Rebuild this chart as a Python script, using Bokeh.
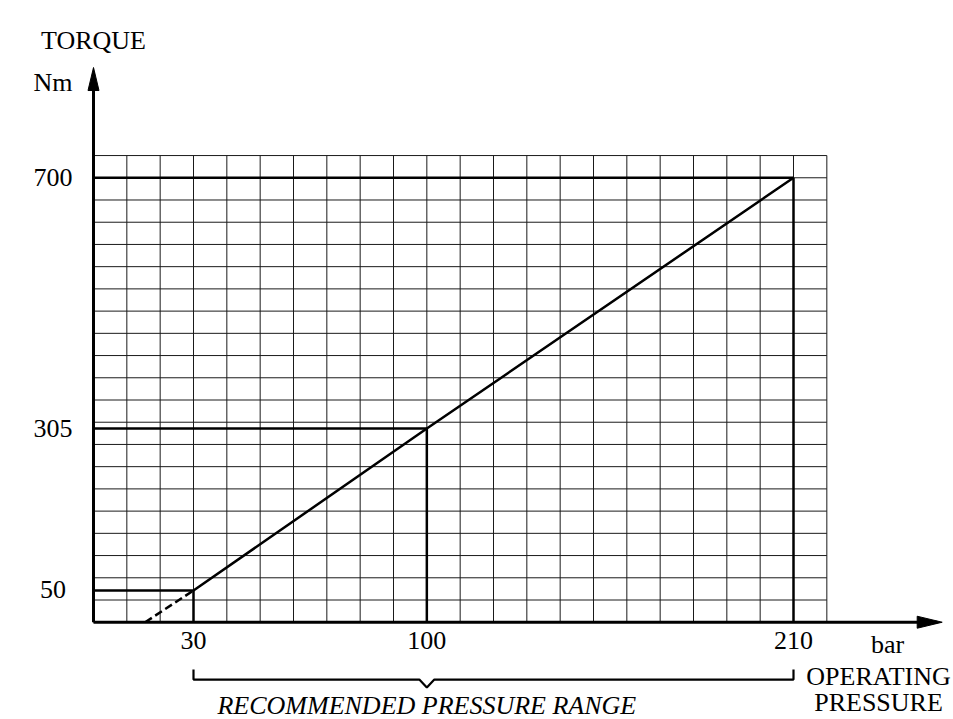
from bokeh.plotting import figure
from bokeh.models import Range1d
from bokeh.core.properties import value
from bokeh.embed import file_html
from bokeh.resources import INLINE

# ---- data -------------------------------------------------------------
pressure_points = [30, 100, 210]          # bar
torque_points = [50, 305, 700]            # Nm
dash_pressure = [15.5, 30]                # extrapolated part below 30 bar
dash_torque = [0, 50]
x_tick_values = [30, 100, 210]
x_tick_labels = ["30", "100", "210"]
y_tick_values = [700, 305, 50]
y_tick_labels = ["700", "305", "50"]
grid_x_max, grid_x_step = 220, 10
grid_y_max, grid_y_step = 735, 35
range_start, range_notch, range_end = 30, 100, 210

# ---- figure / scale ---------------------------------------------------
W, H = 953, 719
XR = (-27.9, 258.0)
YR = (-153.2, 979.2)
PX_X = W / (XR[1] - XR[0])   # px per bar
PX_Y = H / (YR[1] - YR[0])   # px per Nm
SHIFT = -9.5                 # text baseline correction (px)


def dx(px):
    return px / PX_X


def dy(px):
    return px / PX_Y


p = figure(width=W, height=H, x_range=Range1d(*XR), y_range=Range1d(*YR),
           x_axis_type=None, y_axis_type=None, toolbar_location=None,
           output_backend="svg", min_border=0, outline_line_color=None,
           background_fill_color="white", border_fill_color="white")

FONT = value("Liberation Serif")
FS = value("26px")

# grid
gx = list(range(0, grid_x_max + 1, grid_x_step))
gy = list(range(0, grid_y_max + 1, grid_y_step))
p.multi_line(xs=[[x, x] for x in gx], ys=[[0, grid_y_max] for _ in gx],
             line_color="#1a1a1a", line_width=1)
p.multi_line(xs=[[0, grid_x_max] for _ in gy], ys=[[y, y] for y in gy],
             line_color="#1a1a1a", line_width=1)

# reference lines (horizontal to y axis, vertical to x axis)
p.multi_line(xs=[[0, x] for x in pressure_points],
             ys=[[y, y] for y in torque_points],
             line_color="black", line_width=2.5)
p.multi_line(xs=[[x, x] for x in pressure_points],
             ys=[[0, y] for y in torque_points],
             line_color="black", line_width=2.5)

# characteristic
p.line(pressure_points, torque_points, line_color="black", line_width=2.5)
p.line(dash_pressure, dash_torque, line_color="black", line_width=2.5,
       line_dash="8 4")

# axes with arrowheads
x_tip = dx(941.7 - 93)
y_tip = dy(621.7 - 67)
p.line([0, x_tip - dx(5)], [0, 0], line_color="black", line_width=3)
p.line([0, 0], [0, y_tip - dy(5)], line_color="black", line_width=3)
p.patch([x_tip, x_tip - dx(25), x_tip - dx(25)], [0, dy(6), -dy(6)],
        fill_color="black", line_color="black")
p.patch([0, -dx(5.5), dx(5.5)], [y_tip, y_tip - dy(23), y_tip - dy(23)],
        fill_color="black", line_color="black")

# axis labels
p.text(x=[0], y=[y_tip], text=["TORQUE"], text_font=FONT, text_font_size=FS,
       text_align="center", text_baseline="alphabetic",
       y_offset=-17.7 + SHIFT, text_color="black")
p.text(x=[0], y=[y_tip], text=["Nm"], text_font=FONT, text_font_size=FS,
       text_align="center", text_baseline="alphabetic", x_offset=-40.5,
       y_offset=24.7 + SHIFT, text_color="black")

# y tick labels
p.text(x=[0] * len(y_tick_values), y=y_tick_values, text=y_tick_labels,
       text_font=FONT, text_font_size=FS, text_align="center",
       text_baseline="alphabetic", x_offset=-40.5, y_offset=9 + SHIFT,
       text_color="black")

# x tick labels
p.text(x=x_tick_values, y=[0] * len(x_tick_values), text=x_tick_labels,
       text_font=FONT, text_font_size=FS, text_align="center",
       text_baseline="alphabetic", y_offset=27.3 + SHIFT, text_color="black")

# x axis unit / title
unit_x = dx(887 - 93)
title_x = dx(878 - 93)
p.text(x=[unit_x], y=[0], text=["bar"], text_font=FONT, text_font_size=FS,
       text_align="center", text_baseline="alphabetic",
       y_offset=31.5 + SHIFT, text_color="black")
p.text(x=[title_x, title_x], y=[0, 0], text=["OPERATING", "PRESSURE"],
       text_font=FONT, text_font_size=FS, text_align="center",
       text_baseline="alphabetic",
       y_offset=[63.5 + SHIFT, 89.5 + SHIFT], text_color="black")

# recommended range bracket
yb = -dy(679 - 621.7)
yt = -dy(669 - 621.7)
yn = -dy(687 - 621.7)
p.line([range_start, range_start, range_notch - dx(7.5), range_notch,
        range_notch + dx(7.5), range_end, range_end],
       [yt, yb, yb, yn, yb, yb, yt], line_color="black", line_width=2.2)
p.text(x=[range_notch], y=[0], text=["RECOMMENDED PRESSURE RANGE"],
       text_font=FONT, text_font_size=FS, text_font_style="italic",
       text_align="center", text_baseline="alphabetic",
       y_offset=92.3 + SHIFT, text_color="black")

open("out.html", "w").write(file_html(p, INLINE))
